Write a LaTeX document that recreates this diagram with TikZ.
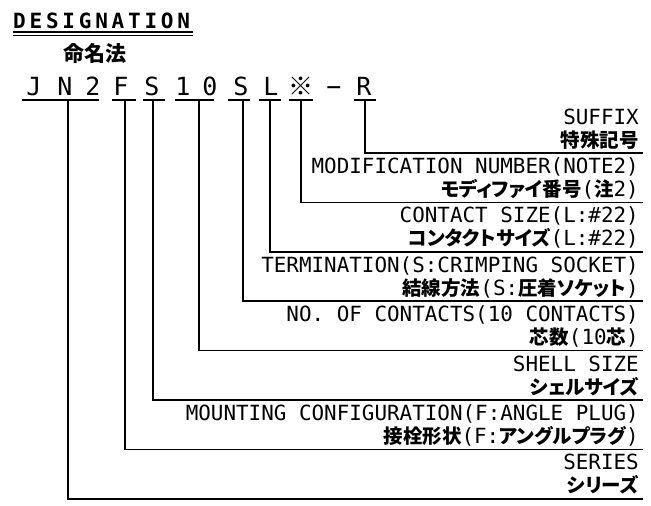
\documentclass[tikz,border=0pt]{standalone}
\usepackage{fontspec}
\setmainfont{DejaVu Sans Mono}
\newfontfamily\jpfont[RawFeature=+palt]{Noto Sans CJK JP}
\newfontfamily\desfont[LetterSpace=18]{DejaVu Sans Mono Bold}
\usetikzlibrary{positioning,calc}
\newcommand{\jp}[1]{{\jpfont\bfseries\fontsize{19.5}{20}\selectfont #1}}

\begin{document}
\begin{tikzpicture}[
    x=1pt, y=-1pt,
    code/.style={anchor=base, inner sep=0pt, font=\fontsize{25}{25}\selectfont},
    lat/.style={anchor=base east, inner sep=0pt, font=\fontsize{20.9}{21}\selectfont},
    bar/.style={line width=1.6pt},
    lead/.style={line width=1.5pt}
]
\useasboundingbox (0,0) rectangle (651,506);

% 見出し
\node[anchor=base west, inner sep=0pt, font=\fontsize{21}{21}\selectfont\desfont] (title) at (13,28) {DESIGNATION};
\draw[line width=1.1pt] (13,32) -- (193,32);
\draw[line width=1.1pt] (13,35.5) -- (193,35.5);
\node[inner sep=0pt, font=\fontsize{21}{21}\selectfont\jpfont\bfseries] (subtitle) at (95,53) {命名法};

% 品番の文字
\foreach \ch/\x [count=\i] in {J/34, N/65, 2/93, F/121, S/152, 1/183, 0/210, S/241, L/271, {\jpfont ※}/301, −/334, R/364}
    \node[code] (ch-\i) at (\x,95) {\ch};

% 下線と引出し線
\foreach \nm/\xa/\xb/\xv/\k in {R/354/376/365/0, kome/289/313/301/1, L/259/281/270/2, term/228/250/243/3,
                               num/175/214/199/4, shell/143/165/153/5, mount/112/136/125/6, ser/22/99/68/7} {
    \coordinate (top-\nm) at (\xv,100);
    \coordinate (end-\nm) at (643,{153+49.4*\k});
    \draw[bar] (\xa,100) -- (\xb,100);
    \draw[lead] (top-\nm) |- (end-\nm);
}

% 説明文
\foreach \lt/\jt [count=\k from 0] in {
    {SUFFIX}/{\jp{特殊記号}},
    {MODIFICATION NUMBER(NOTE2)}/{\jp{モディファイ番号}(\jp{注}2)},
    {CONTACT SIZE(L:\#22)}/{\jp{コンタクトサイズ}(L:\#22)},
    {TERMINATION(S:CRIMPING SOCKET)}/{\jp{結線方法}(S:\jp{圧着ソケット})},
    {NO. OF CONTACTS(10 CONTACTS)}/{\jp{芯数}(10\jp{芯})},
    {SHELL SIZE}/{\jp{シェルサイズ}},
    {MOUNTING CONFIGURATION(F:ANGLE PLUG)}/{\jp{接栓形状}(F:\jp{アングルプラグ})},
    {SERIES}/{\jp{シリーズ}}} {
    \node[lat] (en-\k) at (639,{153+49.4*\k-29}) {\lt};
    \node[lat] (ja-\k) at (639,{153+49.4*\k-6}) {\jt};
}

\end{tikzpicture}
\end{document}
